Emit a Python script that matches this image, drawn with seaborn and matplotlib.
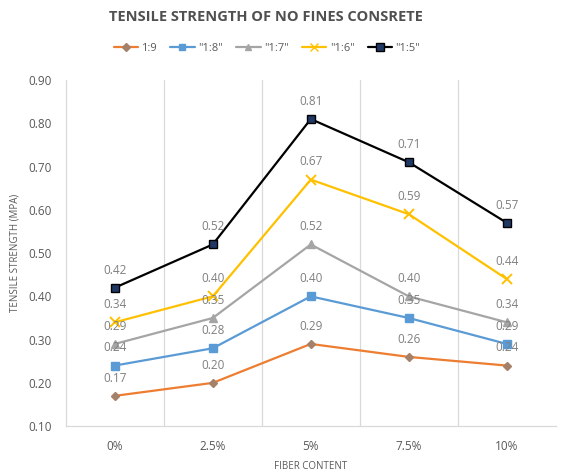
import matplotlib
matplotlib.use("Agg")
import matplotlib.pyplot as plt
import seaborn as sns
import pandas as pd
from matplotlib.lines import Line2D

fiber = ["0%", "2.5%", "5%", "7.5%", "10%"]
series_names = ["1:9", "\"1:8\"", "\"1:7\"", "\"1:6\"", "\"1:5\""]
mix_19 = [0.17, 0.20, 0.29, 0.26, 0.24]
mix_18 = [0.24, 0.28, 0.40, 0.35, 0.29]
mix_17 = [0.29, 0.35, 0.52, 0.40, 0.34]
mix_16 = [0.34, 0.40, 0.67, 0.59, 0.44]
mix_15 = [0.42, 0.52, 0.81, 0.71, 0.57]
y_ticks = [0.10, 0.20, 0.30, 0.40, 0.50, 0.60, 0.70, 0.80, 0.90]

all_values = [mix_19, mix_18, mix_17, mix_16, mix_15]
rows = []
for name, vals in zip(series_names, all_values):
    for i, (f, v) in enumerate(zip(fiber, vals)):
        rows.append({"series": name, "pos": i, "fiber": f, "value": v})
df = pd.DataFrame(rows)

sns.set_theme(style="white")
plt.rcParams["font.family"] = ["Open Sans", "DejaVu Sans"]

line_colors = ["#ED7D31", "#5B9BD5", "#A5A5A5", "#FFC000", "#000000"]
marker_face = ["#A5816A", "#5B9BD5", "#A5A5A5", "#FFC000", "#1F3864"]
marker_edge = ["#A5816A", "#5B9BD5", "#A5A5A5", "#FFC000", "#000000"]
markers = ["D", "s", "^", "x", "s"]
msizes = [4.5, 5.5, 5.5, 6.5, 6]
text_gray = "#595959"

fig = plt.figure(figsize=(5.62, 4.74), dpi=100)
ax = fig.add_axes([0.117, 0.101, 0.872, 0.730])

for idx, name in enumerate(series_names):
    sub = df[df["series"] == name]
    sns.lineplot(data=sub, x="pos", y="value", ax=ax, color=line_colors[idx],
                 linewidth=1.6, marker=markers[idx], markersize=msizes[idx],
                 markerfacecolor=marker_face[idx], markeredgecolor=marker_edge[idx],
                 markeredgewidth=1.0 if markers[idx] != "x" else 1.4,
                 legend=False, zorder=3 + idx)
    for _, r in sub.iterrows():
        ax.annotate(f"{r['value']:.2f}", (r["pos"], r["value"]),
                    xytext=(0, 8), textcoords="offset points",
                    ha="center", va="bottom", fontsize=8.5, color="#7F7F7F",
                    zorder=10)

ax.set_xlim(-0.5, 4.5)
ax.set_ylim(0.10, 0.90)
ax.set_yticks(y_ticks)
ax.set_yticklabels([f"{t:.2f}" for t in y_ticks], fontsize=8.5, color=text_gray)
ax.set_xticks(range(len(fiber)))
ax.set_xticklabels(fiber, fontsize=8.5, color=text_gray)
ax.tick_params(axis="both", length=0, pad=10)
ax.tick_params(axis="x", pad=10)

for b in [0.5, 1.5, 2.5, 3.5]:
    ax.axvline(b, color="#D9D9D9", linewidth=0.9, zorder=1)

for side in ["top", "right"]:
    ax.spines[side].set_visible(False)
for side in ["left", "bottom"]:
    ax.spines[side].set_color("#D9D9D9")
    ax.spines[side].set_linewidth(0.9)

ax.set_xlabel("FIBER CONTENT", fontsize=7, color=text_gray, labelpad=6)
ax.set_ylabel("TENSILE STRENGTH (MPA)", fontsize=7, color=text_gray, labelpad=6)

fig.text(0.473, 0.965, "TENSILE STRENGTH OF NO FINES CONSRETE", ha="center",
         va="center", fontsize=10.5, fontweight="bold", color="#505050")

handles = []
for idx, name in enumerate(series_names):
    handles.append(Line2D([0], [0], color=line_colors[idx], linewidth=1.6,
                          marker=markers[idx], markersize=msizes[idx] - 0.5,
                          markerfacecolor=marker_face[idx],
                          markeredgecolor=marker_edge[idx], label=name))
fig.legend(handles=handles, loc="center", bbox_to_anchor=(0.475, 0.897),
           ncol=5, frameon=False, fontsize=8, labelcolor=text_gray,
           handlelength=2.2, handletextpad=0.3, columnspacing=1.2)

fig.savefig("out.png", dpi=100, facecolor="white")
